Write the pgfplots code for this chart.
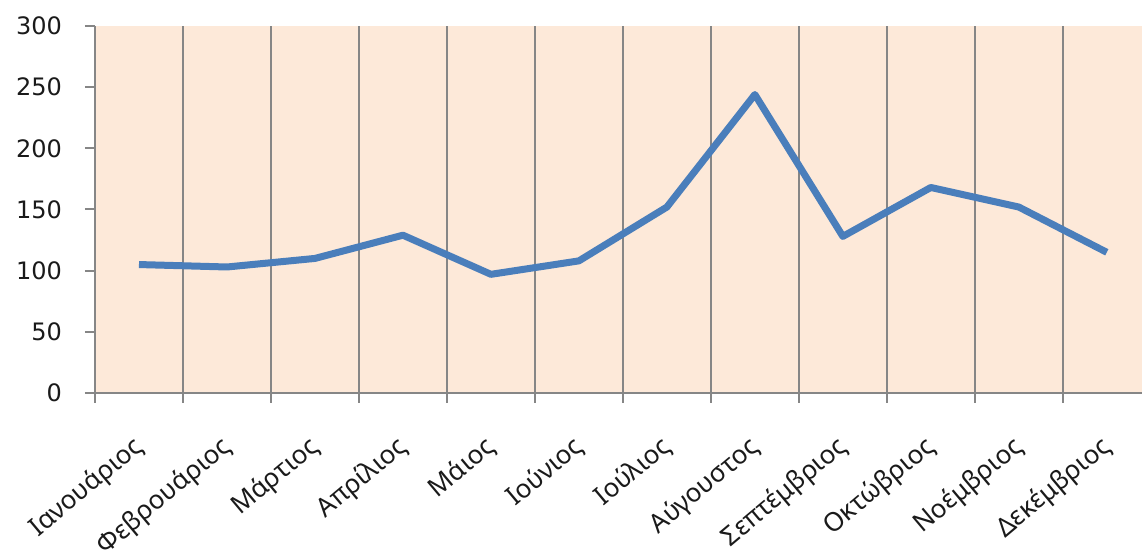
\documentclass[border=0pt]{standalone}
\usepackage{pgfplots}
\pgfplotsset{compat=1.18}
\usepackage{fontspec}
\setmainfont{Noto Sans}
\newfontfamily\numfont{DejaVu Sans}
\usetikzlibrary{calc}
\definecolor{peach}{HTML}{FDE9D9}
\definecolor{linblue}{HTML}{4A7EBB}
\definecolor{gridgray}{HTML}{868686}
\definecolor{txt}{HTML}{1A1A1A}
\begin{document}
\begin{tikzpicture}
\begin{axis}[
  scale only axis,
  width=523.5pt, height=183.5pt,
  xmin=0.5, xmax=12.4,
  ymin=0, ymax=300,
  ytick={0,50,...,300},
  xtick={1,...,12},
  xticklabels={Ιανουάριος,Φεβρουάριος,Μάρτιος,Απρίλιος,Μάιος,Ιούνιος,Ιούλιος,Αύγουστος,Σεπτέμβριος,Οκτώβριος,Νοέμβριος,Δεκέμβριος},
  minor xtick={0.5,1.5,...,11.5},
  xminorgrids,
  minor x grid style={gridgray, line width=1pt},
  major x tick style={draw=none},
  minor x tick style={gridgray, line width=1pt},
  y tick style={gridgray, line width=1pt},
  tick align=outside,
  major tick length=5pt,
  minor tick length=5pt,
  axis x line*=bottom,
  axis y line*=left,
  axis line style={gridgray, line width=1pt, -},
  axis background/.style={fill=peach},
  /pgf/number format/assume math mode=true,
  yticklabel style={font=\numfont\fontsize{12}{14}\selectfont, text=txt, xshift=-8pt},
  xticklabel style={font=\fontsize{13}{16}\selectfont, text=txt, xshift=3pt, yshift=-18pt, rotate=40, anchor=east},
  clip=false,
]
\addplot[linblue, line width=3.5pt, line join=round] coordinates {
  (1,105)(2,103)(3,110)(4,129)(5,97)(6,108)
  (7,152)(8,244)(9,128)(10,168)(11,152)(12,115)
};
\end{axis}
\pgfresetboundingbox
\path ($(current axis.south west)+(-47.5pt,-78.5pt)$) rectangle ($(current axis.north east)+(0,13pt)$);
\end{tikzpicture}
\end{document}
